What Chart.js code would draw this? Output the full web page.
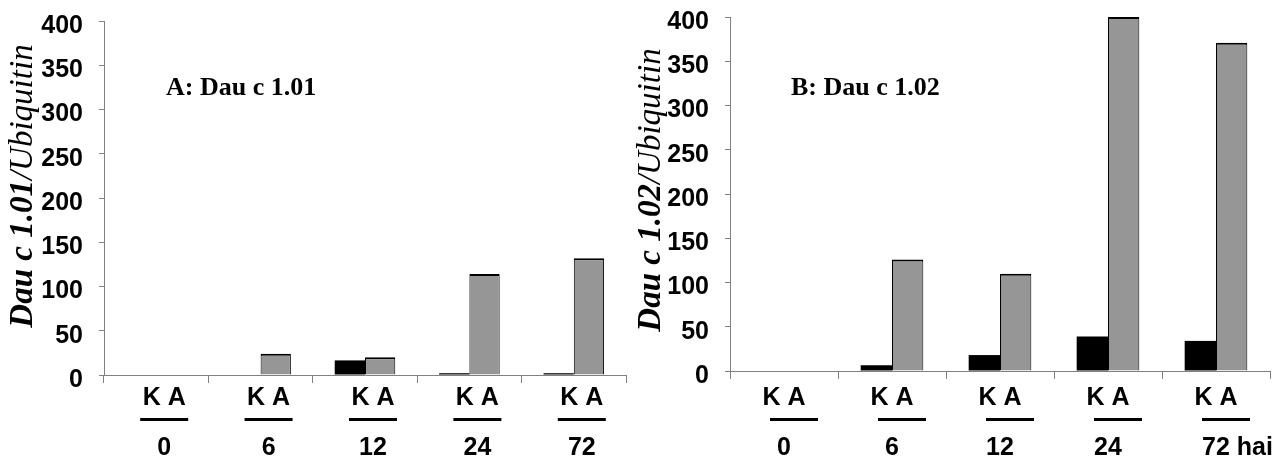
<!DOCTYPE html>
<html>
<head>
<meta charset="utf-8">
<script src="https://cdn.jsdelivr.net/npm/chart.js@4.4.1/dist/chart.umd.min.js"></script>
<style>
    body { margin: 0; background: #fff; width: 1280px; height: 457px; overflow: hidden; position: relative; }
    canvas { position: absolute; top: 0; }
</style>
</head>
<body>
<canvas id="chartA" width="640" height="457" style="left:0"></canvas>
<canvas id="chartB" width="680" height="457" style="left:600px"></canvas>
<script>
// donnees
const heuresA = ['0', '6', '12', '24', '72'];
const heuresB = ['0', '6', '12', '24', '72 hai'];
const paire = 'K A';
const kontrolA = [0, 0, 16.5, 2, 2];
const anthracA = [0, 24, 20, 114, 132];
const kontrolB = [0, 6.5, 18, 39, 34];
const anthracB = [0, 126, 110, 400, 371];
const yMin = 0;
const yMax = 400;
const yStep = 50;

const SANS = '"Liberation Sans", Arial, sans-serif';
const SERIF = '"Liberation Serif", "Times New Roman", serif';

const panelText = {
    id: 'panelText',
    afterDraw(chart, args, opts) {
        const { ctx } = chart;
        const x = chart.scales.x;

        // titre axe y : partie grasse + partie italique
        ctx.save();
        ctx.fillStyle = '#000';
        ctx.translate(opts.titleX, opts.titleY);
        ctx.rotate(-Math.PI / 2);
        ctx.textBaseline = 'middle';
        ctx.textAlign = 'left';
        ctx.font = 'italic bold 33px ' + SERIF;
        const w1 = ctx.measureText(opts.title[0]).width;
        ctx.font = 'italic 33px ' + SERIF;
        const w2 = ctx.measureText(opts.title[1]).width;
        let start = -(w1 + w2) / 2;
        ctx.font = 'italic bold 33px ' + SERIF;
        ctx.fillText(opts.title[0], start, 0);
        ctx.font = 'italic 33px ' + SERIF;
        ctx.fillText(opts.title[1], start + w1, 0);
        ctx.restore();

        ctx.save();
        ctx.fillStyle = '#000';
        ctx.font = 'bold 26px ' + SERIF;
        ctx.textBaseline = 'alphabetic';
        ctx.textAlign = 'left';
        ctx.fillText(opts.panel, opts.panelX, opts.panelY);

        // etiquettes K A / trait / heure
        ctx.font = 'bold 25px ' + SANS;
        chart.data.labels.forEach((lab, i) => {
            const cx = x.getPixelForValue(i);
            ctx.textAlign = 'center';
            ctx.fillText(paire, cx + opts.pairShift, 405);
            ctx.fillRect(cx + opts.lineShift - 24, 418, 48, 3);
            const first = lab.split(' ')[0];
            const wf = ctx.measureText(first).width;
            ctx.textAlign = 'left';
            ctx.fillText(lab, cx + opts.numShift - wf / 2, 455);
        });
        ctx.restore();
    }
};

function makeConfig(labels, kontrol, anthrac, lay) {
    return {
        type: 'bar',
        data: {
            labels: labels,
            datasets: [
                { label: 'K', data: kontrol, backgroundColor: '#000000', borderWidth: 0, clip: 4 },
                {
                    label: 'A', data: anthrac, backgroundColor: '#969696', borderColor: '#000000',
                    borderWidth: { top: 2, left: 1, right: 1, bottom: 0 }, clip: 4
                }
            ]
        },
        options: {
            responsive: false,
            animation: false,
            categoryPercentage: 0.58,
            barPercentage: 1,
            layout: { padding: lay.padding },
            plugins: {
                legend: { display: false },
                tooltip: { enabled: false },
                panelText: lay.text
            },
            scales: {
                x: {
                    grid: { offset: true, drawOnChartArea: false, tickLength: 8, color: '#808080' },
                    border: { color: '#808080' },
                    ticks: { display: false },
                    afterFit: (s) => {
                        s.height = lay.xHeight;
                        s.paddingLeft = 0; s.paddingRight = 0;
                    }
                },
                y: {
                    min: yMin,
                    max: yMax,
                    ticks: {
                        stepSize: yStep,
                        padding: 16,
                        labelOffset: 5,
                        color: '#000',
                        font: { family: SANS, weight: 'bold', size: 25 }
                    },
                    grid: { drawOnChartArea: false, tickLength: 5, color: '#808080' },
                    border: { color: '#808080' },
                    afterFit: (s) => {
                        s.width = lay.yWidth;
                        s.paddingTop = 0; s.paddingBottom = 0;
                    }
                }
            }
        },
        plugins: [panelText]
    };
}

new Chart(document.getElementById('chartA'), makeConfig(heuresA, kontrolA, anthracA, {
    padding: { top: 21, right: 14, left: 0, bottom: 0 },
    yWidth: 104,
    xHeight: 82,
    text: {
        title: ['Dau c 1.01', '/Ubiquitin'], titleX: 23, titleY: 186,
        panel: 'A: Dau c 1.01', panelX: 166, panelY: 95,
        pairShift: 8, lineShift: 8, numShift: 8
    }
}));

new Chart(document.getElementById('chartB'), makeConfig(heuresB, kontrolB, anthracB, {
    padding: { top: 17, right: 10, left: 0, bottom: 0 },
    yWidth: 130,
    xHeight: 86,
    text: {
        title: ['Dau c 1.02', '/Ubiquitin'], titleX: 51, titleY: 190,
        panel: 'B: Dau c 1.02', panelX: 191, panelY: 95,
        pairShift: 0, lineShift: 10, numShift: 0
    }
}));
</script>
</body>
</html>
